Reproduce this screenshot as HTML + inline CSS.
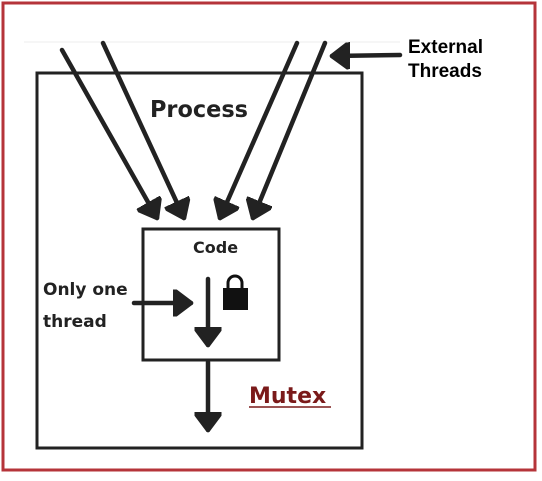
<!DOCTYPE html>
<html><head><style>
body{margin:0;background:#fff;width:542px;height:476px;overflow:hidden}
</style></head><body>
<svg width="542" height="476" viewBox="0 0 542 476" xmlns="http://www.w3.org/2000/svg">
<defs>
<marker id="ah" markerWidth="6" markerHeight="6" refX="4" refY="3" orient="auto" markerUnits="strokeWidth">
<path d="M0,0 L4,3 L0,6 Z" fill="#222" stroke="#222" stroke-width="1" stroke-linejoin="round"/>
</marker>
</defs>
<rect x="3" y="3" width="532" height="467" fill="#fff" stroke="#b5343a" stroke-width="3"/>
<line x1="24" y1="42" x2="400" y2="42" stroke="#eee" stroke-width="1"/>
<rect x="37" y="73" width="325" height="375" fill="none" stroke="#222" stroke-width="3"/>
<rect x="143" y="229" width="136" height="131" fill="#fff" stroke="#222" stroke-width="3"/>
<g stroke="#222" stroke-width="4.5" fill="none" stroke-linecap="round">
<line x1="62" y1="50" x2="157" y2="218" marker-end="url(#ah)"/>
<line x1="103" y1="43" x2="184" y2="218" marker-end="url(#ah)"/>
<line x1="297" y1="43" x2="220" y2="218" marker-end="url(#ah)"/>
<line x1="325" y1="43" x2="253" y2="218" marker-end="url(#ah)"/>
<line x1="400" y1="55" x2="332" y2="56" marker-end="url(#ah)"/>
<line x1="134" y1="303" x2="191" y2="303" marker-end="url(#ah)"/>
<line x1="208" y1="279" x2="208" y2="345" marker-end="url(#ah)"/>
<line x1="208" y1="362" x2="208" y2="430" marker-end="url(#ah)"/>
</g>
<path d="M228,289 v-6 a7,7 0 0 1 14,0 v6" fill="none" stroke="#111" stroke-width="3"/>
<rect x="223" y="288" width="25" height="22" fill="#111"/>
<g font-family="'Comic Sans MS','DejaVu Sans',sans-serif" fill="#222" font-weight="bold">
<text x="150" y="117" font-size="23" textLength="98" lengthAdjust="spacingAndGlyphs">Process</text>
<text x="193" y="253" font-size="16">Code</text>
<text x="43" y="295" font-size="17">Only one</text>
<text x="43" y="327" font-size="17">thread</text>
<text x="249" y="403" font-size="22" fill="#7a1a1a">Mutex</text>
</g>
<line x1="249" y1="407" x2="331" y2="407" stroke="#7a1a1a" stroke-width="1.5"/>
<g font-family="'Liberation Sans',Arial,sans-serif" font-weight="bold" font-size="19" fill="#000">
<text x="408" y="53">External</text>
<text x="408" y="77">Threads</text>
</g>
</svg>
</body></html>
